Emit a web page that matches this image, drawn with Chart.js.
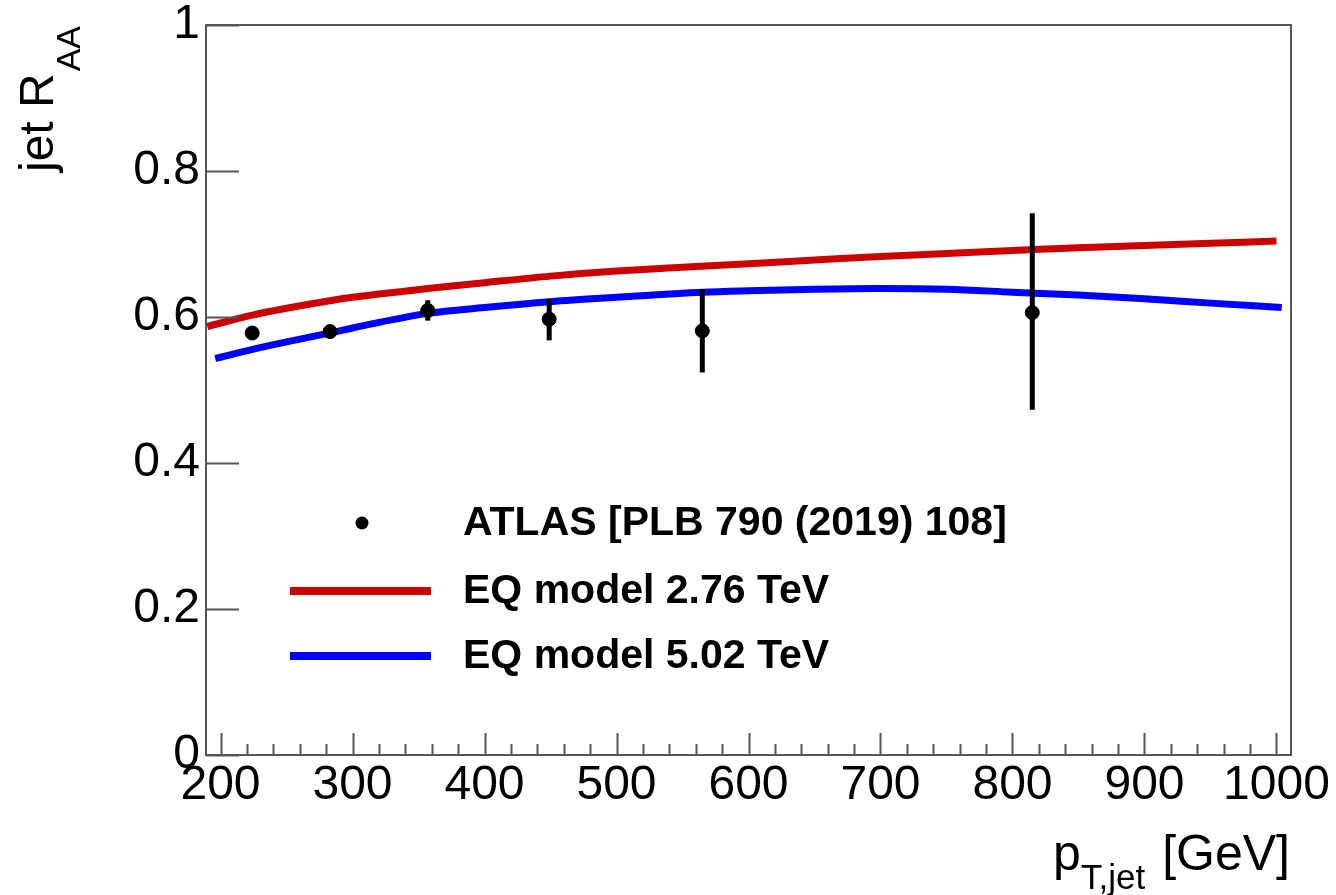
<!DOCTYPE html>
<html>
<head>
<meta charset="utf-8">
<script src="https://cdn.jsdelivr.net/npm/chart.js@4"></script>
<style>
	body { margin: 0; background: #fff; }
	canvas { display: block; }
</style>
</head>
<body>
<canvas id="raaChart" width="1336" height="895"></canvas>
<script>
// ATLAS data points (pT centre, RAA, lower / upper edge of the error bar)
var atlasPt = [224, 283, 357, 449, 565, 815];
var atlasRaa = [0.578, 0.580, 0.609, 0.597, 0.581, 0.606];
var atlasLow = [0.578, 0.580, 0.595, 0.568, 0.524, 0.473];
var atlasHigh = [0.578, 0.580, 0.623, 0.625, 0.638, 0.742];

// EQ model 2.76 TeV
var redPt = [190, 225, 250, 285, 300, 357, 400, 450, 500, 550, 600, 650, 700, 750, 800, 850, 900, 950, 1000];
var redRaa = [0.587, 0.603, 0.612, 0.623, 0.627, 0.639, 0.647, 0.656, 0.663, 0.668, 0.673, 0.678, 0.683, 0.687, 0.691, 0.695, 0.698, 0.701, 0.704];

// EQ model 5.02 TeV
var bluePt = [196, 225, 250, 285, 300, 357, 400, 450, 500, 565, 600, 650, 700, 750, 800, 850, 900, 950, 1004];
var blueRaa = [0.543, 0.556, 0.566, 0.579, 0.585, 0.605, 0.613, 0.621, 0.627, 0.634, 0.636, 0.638, 0.639, 0.638, 0.634, 0.630, 0.625, 0.619, 0.613];

var xTicks = [200, 300, 400, 500, 600, 700, 800, 900, 1000];
var xMinorTicks = [220, 240, 260, 280, 320, 340, 360, 380, 420, 440, 460, 480, 520, 540, 560, 580,
	620, 640, 660, 680, 720, 740, 760, 780, 820, 840, 860, 880, 920, 940, 960, 980];
var yTicks = [0, 0.2, 0.4, 0.6, 0.8, 1];
var yTickLabels = ["0", "0.2", "0.4", "0.6", "0.8", "1"];

var labels = ["ATLAS [PLB 790 (2019) 108]", "EQ model 2.76 TeV", "EQ model 5.02 TeV"];

function toXY(xs, ys) {
	return xs.map((x, i) => ({ x: x, y: ys[i] }));
}

// frame, inward ticks, error bars, legend and axis titles
var rootStyle = {
	id: "rootStyle",
	afterDatasetsDraw: function (chart) {
		var ctx = chart.ctx;
		var xs = chart.scales.x;
		var ys = chart.scales.y;
		var a = chart.chartArea;

		ctx.save();
		// error bars
		ctx.strokeStyle = "#000";
		ctx.lineWidth = 5;
		for (let i = 0; i < atlasPt.length; i++) {
			if (atlasHigh[i] - atlasLow[i] < 0.001) continue;
			var px = xs.getPixelForValue(atlasPt[i]);
			ctx.beginPath();
			ctx.moveTo(px, ys.getPixelForValue(atlasLow[i]));
			ctx.lineTo(px, ys.getPixelForValue(atlasHigh[i]));
			ctx.stroke();
		}

		// frame
		ctx.strokeStyle = "#555";
		ctx.lineWidth = 2;
		ctx.strokeRect(a.left, a.top, a.right - a.left, a.bottom - a.top);

		// ticks pointing inwards
		ctx.beginPath();
		xTicks.forEach(function (v) {
			var px = Math.round(xs.getPixelForValue(v)) + 0.5;
			ctx.moveTo(px, a.bottom);
			ctx.lineTo(px, a.bottom - 22);
		});
		xMinorTicks.forEach(function (v) {
			var px = Math.round(xs.getPixelForValue(v)) + 0.5;
			ctx.moveTo(px, a.bottom);
			ctx.lineTo(px, a.bottom - 11);
		});
		yTicks.forEach(function (v) {
			var py = Math.round(ys.getPixelForValue(v)) + 0.5;
			ctx.moveTo(a.left, py);
			ctx.lineTo(a.left + 33, py);
		});
		ctx.stroke();

		// legend
		var ds = chart.data.datasets;
		ctx.fillStyle = "#000";
		ctx.beginPath();
		ctx.arc(362, 523, 6.5, 0, 2 * Math.PI);
		ctx.fill();
		ctx.lineWidth = 8;
		ctx.strokeStyle = ds[1].borderColor;
		ctx.beginPath();
		ctx.moveTo(290, 591);
		ctx.lineTo(431, 591);
		ctx.stroke();
		ctx.strokeStyle = ds[2].borderColor;
		ctx.beginPath();
		ctx.moveTo(290, 656);
		ctx.lineTo(431, 656);
		ctx.stroke();
		ctx.font = "bold 41px 'Liberation Sans', Arial, sans-serif";
		ctx.textBaseline = "middle";
		ctx.textAlign = "left";
		ctx.fillText(ds[0].label, 463, 524);
		ctx.fillText(ds[1].label, 463, 592);
		ctx.fillText(ds[2].label, 463, 657);

		// x axis title
		ctx.textBaseline = "alphabetic";
		ctx.font = "50px 'Liberation Sans', Arial, sans-serif";
		ctx.fillText("p", 1053, 870);
		ctx.font = "35px 'Liberation Sans', Arial, sans-serif";
		ctx.fillText("T,jet", 1081, 889);
		ctx.textAlign = "right";
		ctx.font = "50px 'Liberation Sans', Arial, sans-serif";
		ctx.fillText("[GeV]", 1290, 870);

		// y axis title
		ctx.translate(53, 172);
		ctx.rotate(-Math.PI / 2);
		ctx.textAlign = "left";
		ctx.font = "48px 'Liberation Sans', Arial, sans-serif";
		ctx.fillText("jet R", 0, 0);
		var w = ctx.measureText("jet R").width;
		ctx.font = "34px 'Liberation Sans', Arial, sans-serif";
		ctx.fillText("AA", w + 2, 27);
		ctx.restore();
	}
};

var chart = new Chart(document.getElementById("raaChart").getContext("2d"), {
	type: "scatter",
	data: {
		datasets: [
			{
				label: labels[0],
				data: toXY(atlasPt, atlasRaa),
				backgroundColor: "#000",
				borderColor: "#000",
				pointRadius: 7,
				showLine: false,
			},
			{
				label: labels[1],
				data: toXY(redPt, redRaa),
				borderColor: "#cc0000",
				backgroundColor: "#cc0000",
				borderWidth: 7,
				pointRadius: 0,
				showLine: true,
				cubicInterpolationMode: "monotone",
			},
			{
				label: labels[2],
				data: toXY(bluePt, blueRaa),
				borderColor: "#0000ff",
				backgroundColor: "#0000ff",
				borderWidth: 7,
				pointRadius: 0,
				showLine: true,
				cubicInterpolationMode: "monotone",
			},
		],
	},
	options: {
		responsive: false,
		animation: false,
		devicePixelRatio: 1,
		layout: { padding: { left: 0, top: 25, right: 45, bottom: 0 } },
		plugins: {
			legend: { display: false },
			tooltip: { enabled: false },
		},
		scales: {
			x: {
				type: "linear",
				min: 189,
				max: 1011,
				afterFit: function (s) {
					s.height = 140;
					s.paddingLeft = 0;
					s.paddingRight = 0;
				},
				afterBuildTicks: function (s) { s.ticks = xTicks.map(v => ({ value: v })); },
				grid: { display: false, drawTicks: false },
				border: { display: false },
				ticks: {
					color: "#000",
					padding: 2,
					maxRotation: 0,
					autoSkip: false,
					callback: function (v) { return String(v); },
					font: { family: "'Liberation Sans', Arial, sans-serif", size: 48 },
				},
			},
			y: {
				type: "linear",
				min: 0,
				max: 1,
				afterFit: function (s) {
					s.width = 206;
					s.paddingTop = 0;
					s.paddingBottom = 0;
				},
				afterBuildTicks: function (s) { s.ticks = yTicks.map(v => ({ value: v })); },
				grid: { display: false, drawTicks: false },
				border: { display: false },
				ticks: {
					color: "#000",
					padding: 6,
					callback: function (v) { return yTickLabels[yTicks.indexOf(v)]; },
					font: { family: "'Liberation Sans', Arial, sans-serif", size: 48 },
				},
			},
		},
	},
	plugins: [rootStyle],
});
</script>
</body>
</html>
